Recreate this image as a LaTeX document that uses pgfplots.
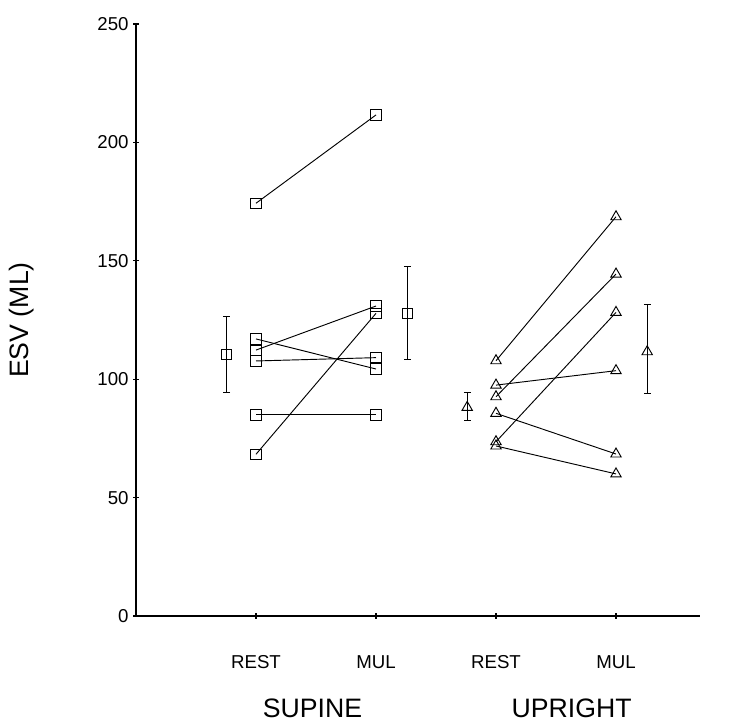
\documentclass[border=0pt]{standalone}
\usepackage{pgfplots}
\pgfplotsset{compat=1.18}
\usepackage{fontspec}
\setmainfont{Liberation Sans}

\pgfplotsset{
  sq/.style={black, line width=0.7pt, mark=square, mark size=3.8pt},
  tr/.style={black, line width=0.7pt, mark=triangle, mark size=4.5pt},
  mn/.style={black, only marks, line width=0.7pt,
    error bars/y dir=both, error bars/y explicit,
    error bars/error bar style={line width=0.75pt},
    error bars/error mark options={rotate=90, mark size=2.5pt, line width=0.75pt}},
}

\begin{document}
\begin{tikzpicture}
\begin{axis}[
  name=ax,
  scale only axis,
  width=423pt, height=444pt,
  xmin=0, xmax=4.7, ymin=0, ymax=250,
  axis lines*=left,
  axis line style={line width=1.3pt},
  xtick={1,2,3,4}, xticklabels={REST,MUL,REST,MUL},
  ytick={0,50,...,250},
  xtick pos=left, ytick pos=left,
  tick style={black, line width=0.8pt},
  major tick length=4pt,
  tick align=center,
  xticklabel style={font=\fontsize{14}{14}\selectfont, yshift=-24pt},
  yticklabel style={font=\fontsize{14}{14}\selectfont},
  /pgf/number format/assume math mode=true,
  clip=false,
]
% SUPINE, rest -> mul
\addplot[sq] coordinates {(1,174.3) (2,211.6)};
\addplot[sq] coordinates {(1,117.0) (2,104.3)};
\addplot[sq] coordinates {(1,112.3) (2,130.9)};
\addplot[sq] coordinates {(1,107.7) (2,109.1)};
\addplot[sq] coordinates {(1,84.9) (2,84.9)};
\addplot[sq] coordinates {(1,68.3) (2,127.8)};

% UPRIGHT, rest -> mul
\addplot[tr] coordinates {(3,107.8) (4,168.6)};
\addplot[tr] coordinates {(3,97.5) (4,103.6)};
\addplot[tr] coordinates {(3,92.6) (4,144.4)};
\addplot[tr] coordinates {(3,85.6) (4,68.4)};
\addplot[tr] coordinates {(3,73.6) (4,128.2)};
\addplot[tr] coordinates {(3,71.8) (4,60.0)};

% group means with error bars
\addplot[mn, mark=square, mark size=3.8pt] coordinates {
  (0.756,110.6) += (0,15.8) -= (0,16.1)
  (2.26,127.8) += (0,19.7) -= (0,19.4)
};
\addplot[mn, mark=triangle, mark size=4.5pt] coordinates {
  (2.76,88.1) += (0,6.4) -= (0,5.6)
  (4.26,111.6) += (0,20.0) -= (0,17.8)
};

\node[font=\fontsize{20}{20}\selectfont] at (axis cs:1.47,0) [yshift=-69pt] {SUPINE};
\node[font=\fontsize{20}{20}\selectfont] at (axis cs:3.63,0) [yshift=-69pt] {UPRIGHT};
\end{axis}
\node[rotate=90, font=\fontsize{20}{20}\selectfont] at ([xshift=-86pt]ax.west) {ESV (ML)};
\path ([shift={(-102pt,-78pt)}]ax.south west) rectangle ++(548.25pt,540pt);
\end{tikzpicture}
\end{document}
